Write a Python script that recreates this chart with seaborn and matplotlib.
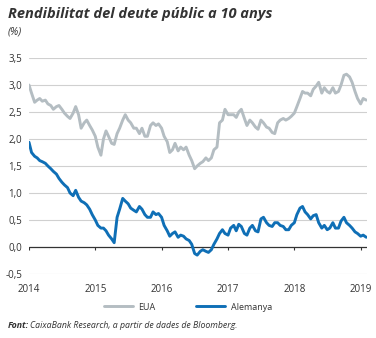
import numpy as np
import pandas as pd
import matplotlib
matplotlib.use("Agg")
import matplotlib.pyplot as plt
import seaborn as sns
from matplotlib.lines import Line2D

# semi-monthly readings, starting 2014-01-01
eua = [
    3.00, 2.85, 2.68, 2.72, 2.75, 2.70, 2.72, 2.65, 2.62, 2.55, 2.60, 2.62,
    2.55, 2.48, 2.42, 2.38, 2.48, 2.60, 2.45, 2.20, 2.30, 2.35, 2.25, 2.17,
    2.05, 1.85, 1.70, 2.00, 2.15, 2.05, 1.92, 1.90, 2.10, 2.20, 2.35, 2.45,
    2.35, 2.30, 2.20, 2.20, 2.10, 2.20, 2.05, 2.05, 2.25, 2.30, 2.25, 2.28,
    2.20, 2.05, 1.95, 1.75, 1.80, 1.92, 1.78, 1.85, 1.80, 1.85, 1.70, 1.60,
    1.45, 1.50, 1.55, 1.58, 1.65, 1.60, 1.65, 1.80, 1.85, 2.30, 2.35, 2.55,
    2.45, 2.45, 2.45, 2.40, 2.50, 2.55, 2.38, 2.25, 2.35, 2.30, 2.22, 2.18,
    2.35, 2.30, 2.22, 2.20, 2.12, 2.10, 2.30, 2.35, 2.38, 2.35, 2.38, 2.42,
    2.48, 2.60, 2.75, 2.88, 2.85, 2.85, 2.80, 2.92, 2.98, 3.05, 2.85, 2.95,
    2.88, 2.85, 2.95, 2.85, 2.88, 3.00, 3.18, 3.20, 3.15, 3.05, 2.88, 2.75,
    2.65, 2.75, 2.72,
]
alemanya = [
    1.94, 1.75, 1.68, 1.65, 1.60, 1.58, 1.55, 1.50, 1.45, 1.40, 1.35, 1.27,
    1.20, 1.15, 1.10, 1.00, 0.95, 1.05, 0.92, 0.85, 0.82, 0.78, 0.70, 0.60,
    0.50, 0.40, 0.35, 0.35, 0.30, 0.22, 0.15, 0.08, 0.55, 0.70, 0.90, 0.85,
    0.80, 0.72, 0.68, 0.65, 0.75, 0.70, 0.60, 0.55, 0.55, 0.65, 0.60, 0.62,
    0.55, 0.40, 0.30, 0.20, 0.25, 0.28, 0.18, 0.22, 0.20, 0.15, 0.12, 0.05,
    -0.12, -0.15, -0.08, -0.05, -0.08, -0.10, -0.05, 0.05, 0.15, 0.25, 0.32, 0.25,
    0.22, 0.35, 0.40, 0.30, 0.42, 0.38, 0.25, 0.22, 0.35, 0.40, 0.30, 0.28,
    0.52, 0.55, 0.45, 0.40, 0.38, 0.45, 0.45, 0.40, 0.38, 0.32, 0.32, 0.40,
    0.45, 0.60, 0.72, 0.75, 0.65, 0.60, 0.52, 0.58, 0.60, 0.45, 0.35, 0.40,
    0.32, 0.35, 0.45, 0.35, 0.35, 0.48, 0.55, 0.45, 0.40, 0.35, 0.28, 0.25,
    0.20, 0.22, 0.18,
]
series_names = ["EUA", "Alemanya"]
colors = ["#b4bdc2", "#0f6fb6"]
year_labels = ["2014", "2015", "2016", "2017", "2018", "2019"]
y_ticks = [-0.5, 0.0, 0.5, 1.0, 1.5, 2.0, 2.5, 3.0, 3.5]

dates = pd.date_range("2014-01-01", periods=len(eua), freq="SMS")
df = pd.concat([
    pd.DataFrame({"date": dates, "value": eua, "serie": series_names[0]}),
    pd.DataFrame({"date": pd.date_range("2014-01-01", periods=len(alemanya), freq="SMS"),
                  "value": alemanya, "serie": series_names[1]}),
])

sns.set_style("white")
plt.rcParams["font.family"] = ["Open Sans", "DejaVu Sans"]

fig = plt.figure(figsize=(3.76, 3.38), dpi=100)
ax = fig.add_axes([29/376, 1-274/338, (367-29)/376, (274-58)/338])

sns.lineplot(data=df, x="date", y="value", hue="serie", palette=colors,
             hue_order=series_names, linewidth=2.1, ax=ax, legend=False)

year_dates = pd.to_datetime([f"{y}-01-01" for y in year_labels])
ax.set_xlim(pd.Timestamp("2014-01-01"), pd.Timestamp("2019-02-05"))
ax.set_ylim(-0.5, 3.5)
ax.set_yticks(y_ticks)
ax.set_yticklabels([f"{v:.1f}".replace(".", ",") for v in y_ticks])
ax.set_xticks(year_dates)
ax.set_xticklabels(year_labels)
for yv in y_ticks:
    if yv != 0:
        ax.axhline(yv, color="#d0d0d0", lw=0.8, zorder=0)
ax.axhline(0, color="#333333", lw=0.9, zorder=1)
ax.vlines(year_dates, -0.06, 0, color="#333333", lw=0.8, zorder=1)
for s in ax.spines.values():
    s.set_visible(False)
ax.tick_params(axis="y", length=0, pad=5, labelsize=7, labelcolor="#333333")
ax.tick_params(axis="x", length=0, pad=7, labelsize=7, labelcolor="#333333")
ax.set_xlabel("")
ax.set_ylabel("")

fig.text(8/376, 1-14/338, "Rendibilitat del deute públic a 10 anys",
         fontsize=10.5, fontweight="bold", fontstyle="italic", color="#333333", va="center")
fig.text(8/376, 1-32/338, "(%)", fontsize=7.5, fontstyle="italic", color="#333333", va="center")

handles = [Line2D([0], [0], color=c, lw=2.1) for c in colors]
fig.legend(handles, series_names, loc="center", bbox_to_anchor=(0.5, 1-307/338),
           ncol=2, frameon=False, fontsize=6.5, handlelength=3.2, columnspacing=4.5,
           handletextpad=0.6, labelcolor="#333333")

fig.text(8/376, 1-326/338, "Font:", fontsize=6.3, fontweight="bold", fontstyle="italic",
         color="#333333", va="center")
fig.text(30.5/376, 1-326/338, "CaixaBank Research, a partir de dades de Bloomberg.",
         fontsize=6.3, fontstyle="italic", color="#333333", va="center")

fig.savefig("out.png", dpi=100)
